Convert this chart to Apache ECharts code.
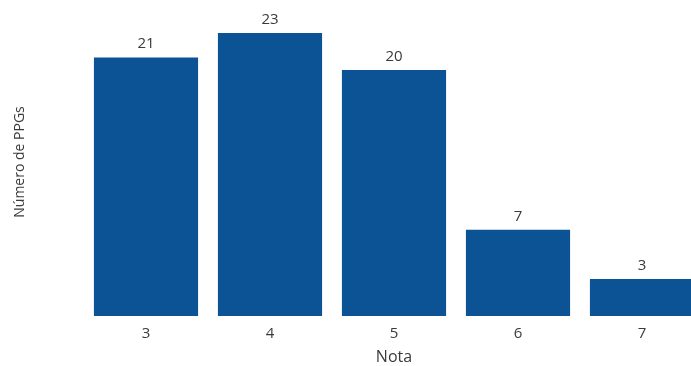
<!DOCTYPE html>
<html>
<head>
<meta charset="utf-8">
<script src="https://cdn.jsdelivr.net/npm/echarts@6/dist/echarts.min.js"></script>
<style>html,body{margin:0;padding:0;background:#fff}#c{width:691px;height:366px}</style>
</head>
<body>
<div id="c"></div>
<script>
const categories = ['3', '4', '5', '6', '7'];
const values = [21, 23, 20, 7, 3];
const xTitle = 'Nota';
const yTitle = 'Número de PPGs';

const chart = echarts.init(document.getElementById('c'));
chart.setOption({
  animation: false,
  textStyle: { fontFamily: 'Open Sans' },
  grid: { left: 84, right: -13, top: 33, bottom: 50, containLabel: false, outerBoundsMode: 'none' },
  xAxis: {
    type: 'category',
    data: categories,
    name: xTitle,
    nameLocation: 'middle',
    nameGap: 33,
    nameTextStyle: { fontSize: 16, color: '#3a3a3a' },
    axisLine: { show: false },
    axisTick: { show: false },
    axisLabel: { fontSize: 15, color: '#3a3a3a', margin: 10 }
  },
  yAxis: {
    type: 'value',
    min: 0,
    max: 23,
    show: false
  },
  graphic: [{
    type: 'text',
    x: 20,
    y: 162,
    rotation: Math.PI / 2,
    style: {
      text: yTitle,
      fontFamily: 'Open Sans',
      fontSize: 14,
      fill: '#3a3a3a',
      align: 'center',
      verticalAlign: 'middle'
    }
  }],
  series: [{
    type: 'bar',
    data: values,
    barCategoryGap: '16%',
    itemStyle: { color: '#0b5394' },
    label: {
      show: true,
      position: 'top',
      distance: 6,
      fontSize: 15,
      color: '#3a3a3a'
    }
  }]
});
</script>
</body>
</html>
